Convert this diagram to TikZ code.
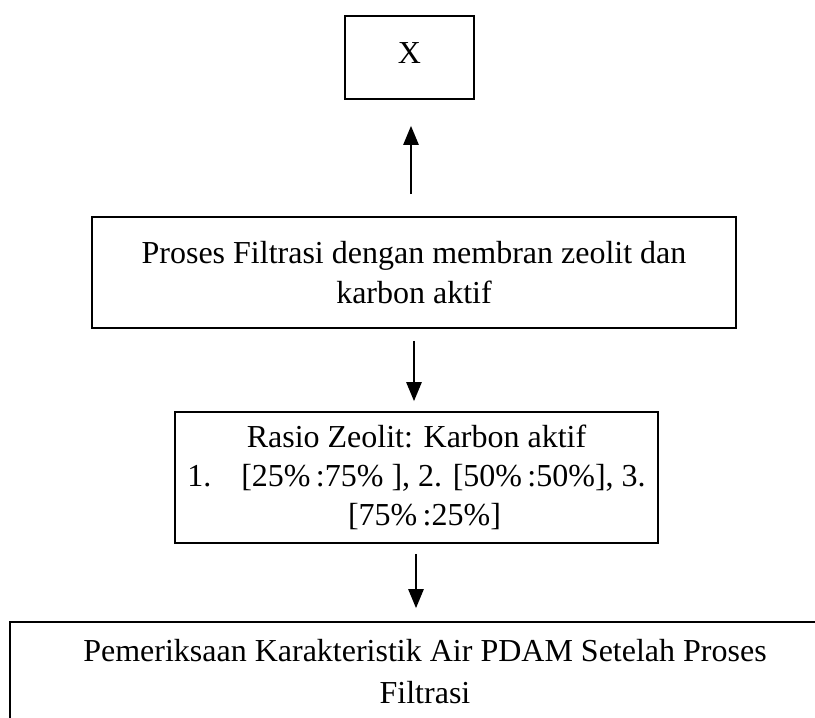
\documentclass[tikz,border=0pt]{standalone}
\usepackage{fontspec}
\setmainfont{Liberation Serif}
\usetikzlibrary{arrows.meta}
\begin{document}
\begin{tikzpicture}[x=1pt,y=-1pt,
  boxnode/.style={draw=black,line width=1.6pt,inner sep=0pt,align=center,
    font=\fontsize{32}{40}\selectfont},
  flowarrow/.style={line width=2.5pt,-{Triangle[width=15pt,length=19pt]}}]
\clip (0,0) rectangle (815,718);
\node[boxnode,minimum width=129pt,minimum height=83pt] (x) at (409.5,57.5) {\raisebox{8pt}{X}};
\node[boxnode,minimum width=644pt,minimum height=111pt] (b2) at (414,272.5)
  {Proses Filtrasi dengan membran zeolit dan\\karbon aktif};
\node[boxnode,minimum width=483pt,minimum height=131pt,
  font=\fontsize{32}{39}\selectfont] (b3) at (416.5,477.5)
  {Rasio Zeolit: Karbon aktif\\1.\hspace{30pt}[25\%\,:75\%\ ], 2. [50\%\,:50\%], 3.\\\hspace*{16pt}[75\%\,:25\%]};
\node[boxnode,minimum width=830pt,minimum height=100pt,font=\fontsize{32}{42}\selectfont] (b4) at (425,672)
  {Pemeriksaan Karakteristik Air PDAM Setelah Proses\\Filtrasi};
\draw[flowarrow,shorten <=22pt,shorten >=26pt] ([xshift=-3pt]b2.north) -- ([xshift=1.5pt]x.south);
\draw[flowarrow,shorten <=12pt,shorten >=10pt] (b2.south) -- ([xshift=-2.5pt]b3.north);
\draw[flowarrow,shorten <=10pt,shorten >=13pt] ([xshift=-0.5pt]b3.south) -- ([xshift=-9pt]b4.north);
\end{tikzpicture}
\end{document}
